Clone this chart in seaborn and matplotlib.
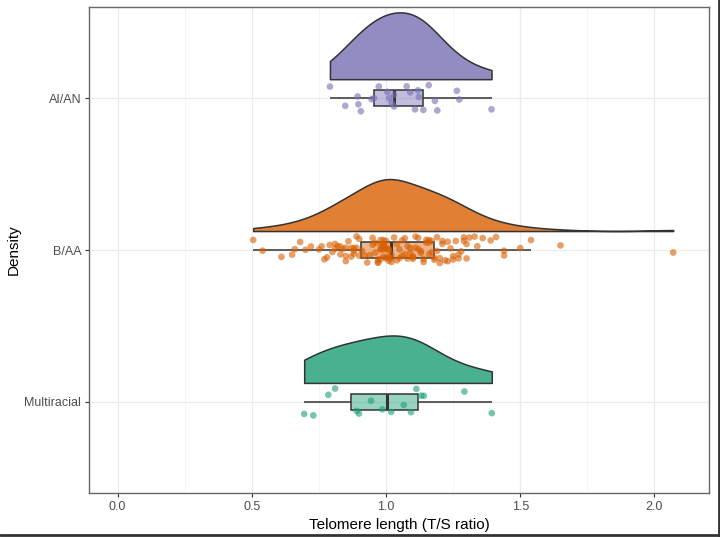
import numpy as np
import pandas as pd
import seaborn as sns
import matplotlib.pyplot as plt
import matplotlib.transforms as mtransforms
from matplotlib.colors import to_rgb
from matplotlib.lines import Line2D
from matplotlib.ticker import MultipleLocator

# --- Data (T/S ratio per participant) ---
groups = ['AI/AN', 'B/AA', 'Multiracial']
colors = ['#7570B3', '#D95F02', '#1B9E77']   # Dark2

aian = [0.791, 0.848, 0.894, 0.897, 0.906, 0.946, 0.955, 0.973, 1.005, 1.012,
        1.021, 1.030, 1.030, 1.077, 1.090, 1.108, 1.119, 1.122, 1.139, 1.159,
        1.182, 1.191, 1.264, 1.273, 1.393]

baa = [0.505, 0.54, 0.61, 0.65, 0.66, 0.68, 0.70, 0.72, 0.75, 0.76, 0.77, 0.78,
       0.79, 0.80, 0.81, 0.81, 0.82, 0.83, 0.83, 0.84, 0.85, 0.85, 0.85, 0.86,
       0.87, 0.87, 0.88, 0.88, 0.88, 0.89, 0.89, 0.90, 0.90, 0.91, 0.92,
       0.93, 0.94, 0.95, 0.95, 0.96, 0.96, 0.97, 0.97, 0.97, 0.98, 0.98, 0.98,
       0.98, 0.98, 0.99, 0.99, 0.99, 0.99, 0.99, 0.99, 1.00, 1.00, 1.00, 1.00,
       1.00, 1.01, 1.01, 1.01, 1.01, 1.02, 1.02, 1.02, 1.03,
       1.04, 1.04, 1.05, 1.05, 1.06, 1.06, 1.07, 1.07, 1.08, 1.08, 1.09, 1.09,
       1.10, 1.10, 1.10, 1.11, 1.11, 1.12, 1.12, 1.13, 1.13, 1.14, 1.14, 1.15,
       1.15, 1.16, 1.16, 1.16, 1.17, 1.17, 1.18, 1.18,
       1.19, 1.19, 1.20, 1.20, 1.21, 1.21, 1.22, 1.23, 1.23, 1.24, 1.25, 1.25,
       1.26, 1.27, 1.27, 1.28, 1.29, 1.29, 1.30, 1.30, 1.31, 1.33, 1.34, 1.36,
       1.39, 1.41, 1.44, 1.44, 1.50, 1.54, 1.65, 2.07]

multi = [0.695, 0.729, 0.785, 0.810, 0.891, 0.899, 0.944, 0.986, 1.019, 1.066,
         1.093, 1.113, 1.131, 1.141, 1.292, 1.394]

df = pd.DataFrame({
    'group': ['AI/AN'] * len(aian) + ['B/AA'] * len(baa) + ['Multiracial'] * len(multi),
    'ts': aian + baa + multi,
})


def blend(c, a):
    # colour with alpha, flattened onto white
    return tuple(a * v + (1 - a) for v in to_rgb(c))


sns.set_theme(style='whitegrid')
plt.rcParams['font.family'] = ['Liberation Sans', 'DejaVu Sans']

fig = plt.figure(figsize=(7.2, 5.37), dpi=100)
ax = fig.add_axes([0.1243, 0.0819, 0.861, 0.905])

# half violins (density); seaborn puts the flat side at pos + width/2,
# so shift them up to sit just above each box
vw = 0.44
sns.violinplot(data=df, x='ts', y='group', order=groups, split=True, inner=None,
               cut=0, bw_adjust=1.0, density_norm='area', width=vw,
               color=colors[0], linecolor='#333333', linewidth=1.1,
               saturation=1, ax=ax)
bodies = list(ax.collections)
for i, body in enumerate(bodies):
    body.set_facecolor(blend(colors[i], 0.8))
    body.set_transform(mtransforms.Affine2D().translate(0, -(vw / 2 + 0.125)) + ax.transData)

# jittered points
np.random.seed(7)
sns.stripplot(data=df, x='ts', y='group', order=groups, hue='group',
              hue_order=groups, palette=colors, jitter=0.09, size=4.8,
              alpha=0.6, linewidth=0, legend=False, ax=ax)

# boxplots
sns.boxplot(data=df, x='ts', y='group', order=groups, hue='group',
            hue_order=groups, palette=colors, width=0.105, showfliers=False,
            showcaps=False, linecolor='#333333', linewidth=1.1, saturation=1,
            medianprops=dict(linewidth=2.2), legend=False, ax=ax)
for i, patch in enumerate(ax.patches):
    patch.set_facecolor((*to_rgb(colors[i % 3]), 0.45))

ax.set_xlim(-0.105, 2.205)
ax.set_ylim(2.6, -0.6)
ax.xaxis.set_major_locator(MultipleLocator(0.5))
ax.xaxis.set_minor_locator(MultipleLocator(0.25))
ax.xaxis.set_major_formatter(plt.FormatStrFormatter('%.1f'))
ax.grid(which='major', color='#EBEBEB', linewidth=0.9)
ax.grid(which='minor', axis='x', color='#F4F4F4', linewidth=0.6)
ax.set_axisbelow(True)
for s in ax.spines.values():
    s.set_color('#666666')
    s.set_linewidth(1.0)
ax.tick_params(axis='both', which='major', length=3, width=0.8, color='#333333',
               labelcolor='#4D4D4D', labelsize=9, bottom=True, left=True, pad=3)
ax.tick_params(axis='x', which='minor', length=0)

ax.set_xlabel('Telomere length (T/S ratio)', fontsize=11, color='black', labelpad=3)
ax.set_ylabel('Density', fontsize=11, color='black')
ax.yaxis.set_label_coords(-0.111, 0.5)

# dark frame on the right and bottom edges of the picture
fig.add_artist(Line2D([0.998, 0.998], [0, 1], transform=fig.transFigure,
                      color='#333333', linewidth=2))
fig.add_artist(Line2D([0, 1], [0.003, 0.003], transform=fig.transFigure,
                      color='#333333', linewidth=2))

fig.savefig('out.png', dpi=100)
